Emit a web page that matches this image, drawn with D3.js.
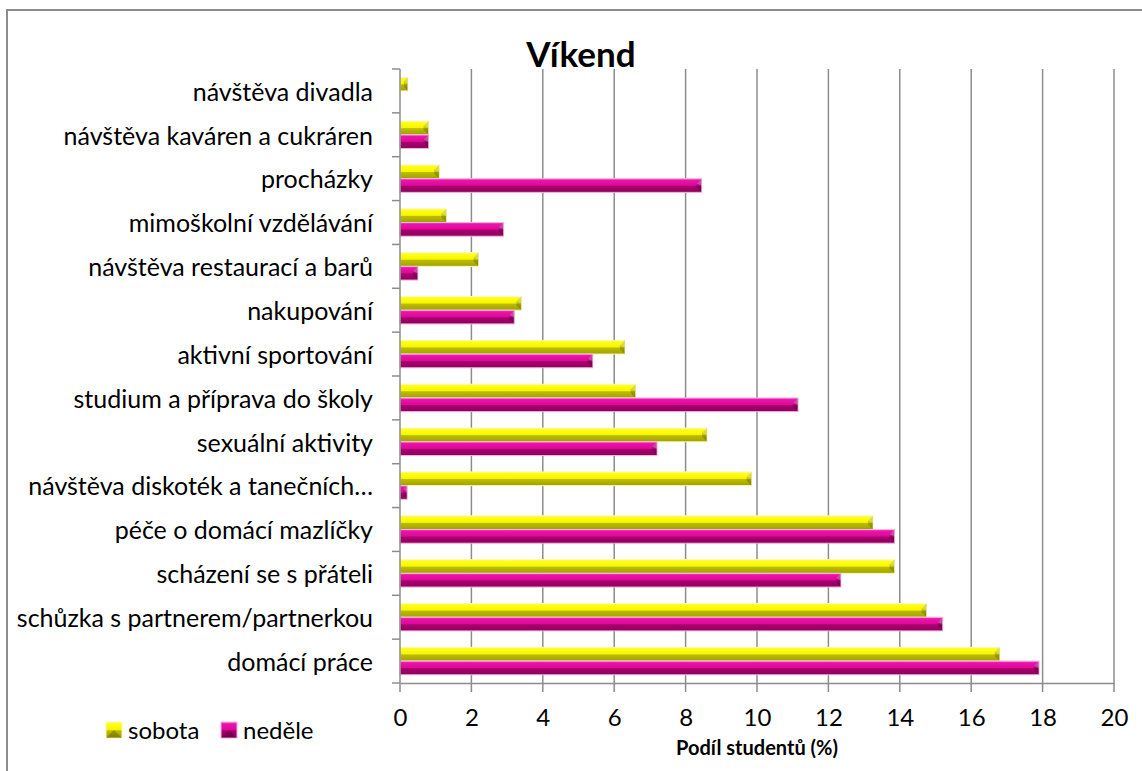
<!DOCTYPE html>
<html>
<head>
<meta charset="utf-8">
<script src="https://cdn.jsdelivr.net/npm/d3@7"></script>
<style>
  body { margin: 0; background: #fff; }
  svg { display: block; font-family: Lato, "Open Sans", sans-serif; }
</style>
</head>
<body>
<div id="chart"></div>
<script>
// categories from top to bottom
var categories = [
    'návštěva divadla',
    'návštěva kaváren a cukráren',
    'procházky',
    'mimoškolní vzdělávání',
    'návštěva restaurací a barů',
    'nakupování',
    'aktivní sportování',
    'studium a příprava do školy',
    'sexuální aktivity',
    'návštěva diskoték a tanečních…',
    'péče o domácí mazlíčky',
    'scházení se s přáteli',
    'schůzka s partnerem/partnerkou',
    'domácí práce'
];
var seriesNames = ['sobota', 'neděle'];
var sobota = [0.22, 0.8, 1.1, 1.3, 2.2, 3.4, 6.3, 6.6, 8.6, 9.85, 13.25, 13.85, 14.75, 16.8];
var nedele = [0, 0.8, 8.45, 2.9, 0.5, 3.2, 5.4, 11.15, 7.2, 0.2, 13.85, 12.35, 15.2, 17.9];
var xTicks = [0, 2, 4, 6, 8, 10, 12, 14, 16, 18, 20];

function drawChart() {
    var width = 1142, height = 771;
    var left = 400, right = 1114, top = 69, bottom = 683;

    var svg = d3.select('#chart').append('svg')
        .attr('width', width)
        .attr('height', height);

    var defs = svg.append('defs');
    var grads = [
        { id: 'gYellow', stops: [['0%', '#f6f68a'], ['12%', '#ffff10'], ['48%', '#f6f600'], ['55%', '#bcbc00'], ['100%', '#a0a000']] },
        { id: 'gPink', stops: [['0%', '#f45cc8'], ['12%', '#ec14a8'], ['48%', '#e0089c'], ['55%', '#a8006e'], ['100%', '#8e005c']] }
    ];
    grads.forEach(function (g) {
        var lg = defs.append('linearGradient').attr('id', g.id)
            .attr('x1', 0).attr('y1', 0).attr('x2', 0).attr('y2', 1);
        g.stops.forEach(function (s) {
            lg.append('stop').attr('offset', s[0]).attr('stop-color', s[1]);
        });
    });

    // outer frame
    svg.append('rect')
        .attr('x', 7).attr('y', 10)
        .attr('width', 1160).attr('height', 800)
        .attr('fill', 'none')
        .attr('stroke', '#8c8c8c')
        .attr('stroke-width', 2);

    var x = d3.scaleLinear().domain([0, 20]).range([left, right]);
    var y = d3.scaleBand().domain(categories).range([top, bottom]).paddingInner(0).paddingOuter(0);
    var ySub = d3.scaleBand().domain(seriesNames).range([0, y.bandwidth()]).paddingInner(0).paddingOuter(0.6);

    // vertical gridlines + ticks
    svg.append('g')
        .selectAll('line')
        .data(xTicks.slice(1))
        .enter()
        .append('line')
        .attr('x1', function (d) { return x(d); })
        .attr('x2', function (d) { return x(d); })
        .attr('y1', top)
        .attr('y2', bottom + 9)
        .attr('stroke', '#8c8c8c')
        .attr('stroke-width', 1.5);

    // bars
    var color = { 'sobota': 'url(#gYellow)', 'neděle': 'url(#gPink)' };
    var edge = { 'sobota': '#fafab0', 'neděle': '#f3b4df' };
    var rows = [];
    categories.forEach(function (c, i) {
        rows.push({ cat: c, s: 'sobota', v: sobota[i] });
        rows.push({ cat: c, s: 'neděle', v: nedele[i] });
    });
    rows = rows.filter(function (d) { return d.v > 0; });

    var bar = svg.append('g').selectAll('g')
        .data(rows)
        .enter()
        .append('g')
        .attr('transform', function (d) {
            return 'translate(0,' + (y(d.cat) + ySub(d.s)) + ')';
        });
    bar.append('rect')
        .attr('x', x(0))
        .attr('width', function (d) { return x(d.v) - x(0); })
        .attr('height', ySub.bandwidth())
        .attr('fill', function (d) { return color[d.s]; })
        .attr('stroke', function (d) { return edge[d.s]; })
        .attr('stroke-width', 1);
    // bevelled right end
    bar.append('path')
        .attr('d', function (d) {
            var x1 = x(d.v), h = ySub.bandwidth();
            var b = Math.min(5, (x1 - x(0)) / 2);
            return 'M' + (x1 - b) + ',' + b + 'L' + x1 + ',0L' + x1 + ',' + h + 'L' + (x1 - b) + ',' + (h - b) + 'Z';
        })
        .attr('fill', 'rgba(0,0,0,0.18)');
    bar.append('path')
        .attr('d', function (d) {
            var x1 = x(d.v), h = ySub.bandwidth();
            var b = Math.min(5, (x1 - x(0)) / 2);
            return 'M' + (x1 - b) + ',' + b + 'L' + x1 + ',0L' + x1 + ',' + (h / 2) + 'Z';
        })
        .attr('fill', 'rgba(255,255,255,0.25)');

    // axes
    var xAxis = d3.axisBottom(x).tickValues(xTicks).tickSize(0).tickPadding(26);
    var gx = svg.append('g').attr('transform', 'translate(0,' + bottom + ')').call(xAxis);
    gx.select('.domain').attr('stroke', '#8c8c8c').attr('stroke-width', 1.5);
    gx.selectAll('text').attr('font-size', 24).attr('fill', '#000')
        .attr('font-family', 'Lato, "Open Sans", sans-serif');

    // left axis line and category boundary ticks
    svg.append('line')
        .attr('x1', left).attr('x2', left)
        .attr('y1', top).attr('y2', bottom + 9)
        .attr('stroke', '#8c8c8c').attr('stroke-width', 1.5);
    var bounds = categories.map(function (c) { return y(c); }).concat([bottom]);
    svg.append('g').selectAll('line')
        .data(bounds)
        .enter()
        .append('line')
        .attr('x1', left - 8).attr('x2', left)
        .attr('y1', function (d) { return d; })
        .attr('y2', function (d) { return d; })
        .attr('stroke', '#8c8c8c').attr('stroke-width', 1.5);

    svg.append('g').selectAll('text')
        .data(categories)
        .enter()
        .append('text')
        .attr('x', 373)
        .attr('y', function (d) { return y(d) + y.bandwidth() / 2 + 1; })
        .attr('dy', '0.35em')
        .attr('text-anchor', 'end')
        .attr('font-size', 25)
        .attr('fill', '#000')
        .text(function (d) { return d; });

    // title
    svg.append('text')
        .attr('x', 581).attr('y', 67)
        .attr('text-anchor', 'middle')
        .attr('font-size', 35)
        .attr('font-weight', 'bold')
        .text('Víkend');

    // axis title
    svg.append('text')
        .attr('x', (left + right) / 2).attr('y', 755)
        .attr('text-anchor', 'middle')
        .attr('font-size', 20)
        .attr('font-weight', 'bold')
        .text('Podíl studentů (%)');

    // legend
    var legend = svg.append('g').selectAll('g')
        .data(seriesNames)
        .enter()
        .append('g')
        .attr('transform', function (d, i) { return 'translate(' + (106 + i * 115) + ',722)'; });
    legend.append('rect')
        .attr('width', 16).attr('height', 16)
        .attr('fill', function (d) { return color[d]; })
        .attr('stroke', function (d) { return edge[d]; });
    legend.append('path')
        .attr('d', 'M0,16L8,8L16,16Z')
        .attr('fill', 'rgba(0,0,0,0.2)');
    legend.append('text')
        .attr('x', 22).attr('y', 9)
        .attr('dy', '0.35em')
        .attr('font-size', 24)
        .text(function (d) { return d; });
}

window.addEventListener('load', function () {
    drawChart();
});
</script>
</body>
</html>
